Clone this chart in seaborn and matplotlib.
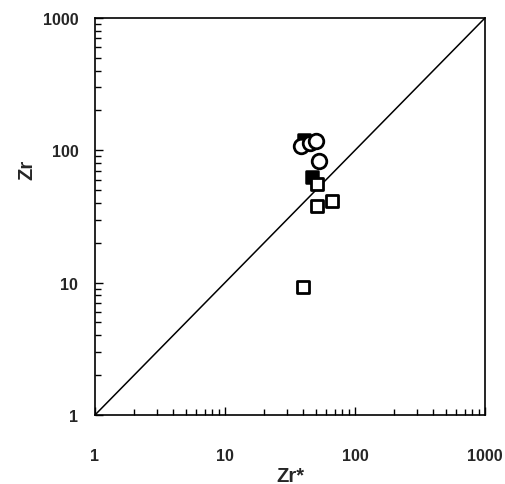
import matplotlib
matplotlib.use("Agg")
import matplotlib.pyplot as plt
import seaborn as sns
import pandas as pd
from matplotlib.ticker import LogLocator, FixedLocator, FixedFormatter, NullFormatter

sns.set_style("white")
plt.rcParams["font.family"] = ["Liberation Sans", "DejaVu Sans"]

# Open circles
circle_zr_star = [38.2, 45.1, 50.1, 53.1]
circle_zr = [108, 113, 117, 83.4]

# Open squares
open_sq_zr_star = [50.7, 50.7, 66.2, 40.0]
open_sq_zr = [55.6, 38.1, 41.6, 9.2]

# Filled squares
filled_sq_zr_star = [40.2, 46.4]
filled_sq_zr = [118.6, 62.5]

tick_values = [1, 10, 100, 1000]
tick_labels = ["1", "10", "100", "1000"]

fig = plt.figure(figsize=(5.06, 4.85), dpi=100)
ax = fig.add_axes([0.1877, 0.1423, 0.7708, 0.8186])

ax.plot([1, 1000], [1, 1000], color="black", lw=1.1, zorder=1)

filled = pd.DataFrame({"x": filled_sq_zr_star, "y": filled_sq_zr})
sns.scatterplot(data=filled, x="x", y="y", marker="s", s=80, color="black",
                edgecolor="black", linewidth=1.8, ax=ax, zorder=2)

circles = pd.DataFrame({"x": circle_zr_star, "y": circle_zr})
sns.scatterplot(data=circles, x="x", y="y", marker="o", s=110, color="white",
                edgecolor="black", linewidth=2.0, ax=ax, zorder=3)

squares = pd.DataFrame({"x": open_sq_zr_star, "y": open_sq_zr})
sns.scatterplot(data=squares, x="x", y="y", marker="s", s=80, color="white",
                edgecolor="black", linewidth=2.0, ax=ax, zorder=3)

ax.set_xscale("log")
ax.set_yscale("log")
ax.set_xlim(1, 1000)
ax.set_ylim(1, 1000)

for axis in (ax.xaxis, ax.yaxis):
    axis.set_major_locator(FixedLocator(tick_values))
    axis.set_major_formatter(FixedFormatter(tick_labels))
    axis.set_minor_locator(LogLocator(base=10, subs=range(2, 10)))
    axis.set_minor_formatter(NullFormatter())

ax.tick_params(axis="both", which="major", direction="in", length=6, width=1,
               bottom=True, left=True, top=False, right=False, color="black")
ax.tick_params(axis="both", which="minor", direction="in", length=4, width=1,
               bottom=True, left=True, top=False, right=False, color="black")
ax.tick_params(axis="x", which="major", pad=24)
ax.tick_params(axis="y", which="major", pad=12)

for lab in ax.get_xticklabels() + ax.get_yticklabels():
    lab.set_fontsize(11.5)
    lab.set_fontweight("bold")

for sp in ax.spines.values():
    sp.set_color("black")
    sp.set_linewidth(1.2)

ax.set_xlabel("Zr*", fontsize=14.5, fontweight="bold")
ax.set_ylabel("Zr", fontsize=14.5, fontweight="bold")
ax.xaxis.set_label_coords(0.5, -0.128)
ax.yaxis.set_label_coords(-0.15, 0.62)

fig.savefig("out.png", dpi=100)
